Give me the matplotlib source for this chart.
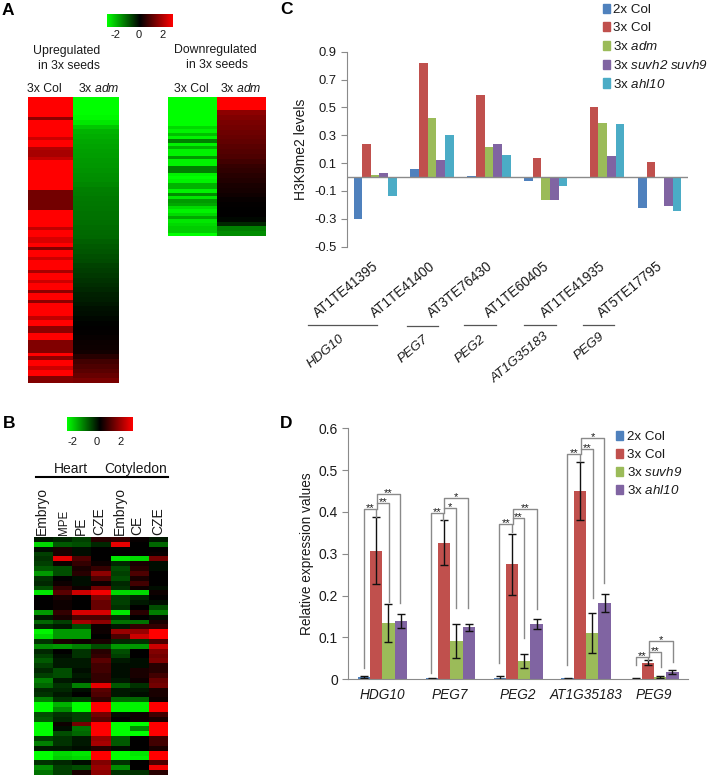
import numpy as np
import matplotlib
matplotlib.use("Agg")
import matplotlib.pyplot as plt
from matplotlib.colors import LinearSegmentedColormap
from matplotlib.patches import Patch
from matplotlib.transforms import ScaledTranslation

plt.rcParams['font.family'] = ['Liberation Sans', 'DejaVu Sans']
plt.rcParams['mathtext.fontset'] = 'custom'
plt.rcParams['mathtext.rm'] = 'Liberation Sans'
plt.rcParams['mathtext.it'] = 'Liberation Sans:italic'
# \mathcal keeps digits italic too, \mathit does not
plt.rcParams['mathtext.cal'] = 'Liberation Sans:italic'

W, H = 711, 777
TEXT = "#1a1a1a"
GRAY = "#8a8a8a"
BLUE = "#4F81BD"
RED = "#C0504D"
GREEN = "#9BBB59"
PURPLE = "#8064A2"
CYAN = "#4BACC6"

# panel A, log2 values
up_col = [2, 2, 2, 2, 2, 2, 1.1, 2, 2, 2, 2, 2, 1.6, 2, 2, 1.4, 1.3, 1.3, 1.5, 2,
          2, 2, 2, 2, 2, 2, 2, 2, 0.9, 0.9, 0.9, 0.9, 0.9, 0.9, 2, 2, 2, 2, 2, 1.5,
          2, 2, 1.7, 1.7, 2, 1.0, 2, 2, 1.6, 2, 2, 2, 1.3, 2, 2, 1.6, 2, 2, 1.1, 2,
          2, 1.1, 2, 2, 2, 2, 1.5, 2, 2, 1.1, 1.1, 2, 2, 1.0, 1.0, 1.0, 1.0, 2, 1.1,
          2, 2, 1.6, 2, 2, 1.0, 1.0]
up_adm = [-2, -2, -2, -2, -1.95, -1.8, -1.55, -1.4, -1.35, -1.3, -1.28, -1.25,
          -1.22, -1.2, -1.18, -1.15, -1.12, -1.1, -1.05, -1.0, -0.98, -0.95,
          -0.93, -0.92, -0.9, -0.88, -0.86, -0.84, -0.82, -0.8, -0.75, -0.7,
          -0.66, -0.62, -0.58, -0.52, -0.48, -0.44, -0.4, -0.35, -0.3, -0.26,
          -0.22, -0.18, -0.14, -0.1, -0.06, -0.02, 0.0, 0.02, 0.05, 0.08, 0.1,
          0.13, 0.3, 0.5, 0.6, 0.7, 0.8, 0.95]
down_col = [-2, -2, -2, -2, -2, -2, -2, -2, -2, -1.7, -1.9, -1.5, -1.9, -1.0, -1.9,
            -1.4, -1.9, -1.9, -1.2, -1.9, -1.9, -1.0, -1.0, -1.9, -2, -1.9, -1.4,
            -1.4, -1.9, -1.1, -1.8, -1.2, -1.3, -1.7, -1.9, -1.7, -1.3, -1.8, -1.7,
            -1.6, -1.6, -2]
down_adm = [2, 2, 2, 1.1, 1.0, 0.95, 0.9, 0.85, 0.8, 0.75, 0.7, 0.65, 0.6, 0.5,
            0.42, 0.36, 0.3, 0.25, 0.2, 0.16, 0.12, 0.06, 0.02, 0, 0, -0.05,
            -0.3, -1.0, -1.1]

# panel B
b_columns = ["Embryo", "MPE", "PE", "CZE", "Embryo", "CE", "CZE"]
b_rows = [
    [-.2, -.3, -.5, .3, .4, .05, -.2],
    [-1.7, -.7, -.6, -.3, 1.8, 0, -.8],
    [-.1, .2, -.1, 0, 0, 0, 0],
    [-.5, .2, -.1, 0, 0, 0, .05],
    [-.4, 1.8, .6, 0, -1.8, -1.7, .9],
    [-.5, .1, .4, .1, -.3, .2, -.1],
    [-.7, -.6, .2, .4, -.6, .3, -.1],
    [-1.2, -.6, .3, 1.1, -.5, .6, 0],
    [-.4, 0, -.1, .6, -.6, .2, 0],
    [-.3, .1, -.1, .1, -.3, .5, 0],
    [-.6, .4, .1, .9, -.4, .1, -.1],
    [-1.8, .7, 1.6, 1.9, -1.7, -1.7, .1],
    [0, .2, 0, 1.0, -.5, -.3, 0],
    [0, .1, 0, .8, -.5, -.2, -.1],
    [0, .1, 0, .8, -.4, 0, -.6],
    [-1.2, .4, 1.7, 1.7, -1.8, .3, -1.0],
    [-.2, .2, .6, .6, -.4, 0, -.1],
    [-.8, -.5, 1.3, 1.1, -.9, -.9, .2],
    [-.3, -.2, -.6, .1, -.2, .4, .4],
    [-1.9, -1.2, -1.2, .1, 1.2, 1.2, 2],
    [-1.7, -1.2, -1.2, 0, .6, 1.6, 2],
    [-.4, .2, .1, .2, -.3, -.4, .6],
    [-1.1, -1.2, -1, -.6, -1.2, -1.2, 1.6],
    [-.3, 0, -.4, .3, -.6, 0, 1.0],
    [-.5, -.1, -.4, .4, -.5, 0, .9],
    [-.7, -.2, -.2, .7, -.2, -.1, 1.0],
    [-.5, -.2, -.2, .5, -.1, -.1, .3],
    [-.3, -.6, -.1, .5, -.1, .2, .3],
    [-.5, -.6, -.2, .4, -.1, .2, .5],
    [-1, -.2, -.1, .4, -.2, .1, .8],
    [-.8, -.4, -1.0, 1.8, -.7, -.4, .9],
    [-.3, -.3, -.1, .7, -.2, -.2, .2],
    [-.4, -.2, 0, .6, -.2, -.1, .2],
    [-1.0, -.4, -.5, .4, -.8, -.8, .1],
    [-2, -1.4, -2, 2, -1.9, -1.9, 2],
    [-2, -1.1, -2, 2, -1.9, -1.9, 2],
    [-.6, -.4, -.5, .9, -.1, .1, .5],
    [-.7, -.3, -.5, .7, 0, .1, .2],
    [-2, .1, .9, 2, -2, -2, 2],
    [-2, -.1, -.9, 2, -2, -1.1, 2],
    [-2, -.6, -.8, 2, -2, -2, 2],
    [-.5, -.4, -.2, 1.2, -.7, 0, .5],
    [-1, -.4, -.2, 1.3, -.7, 0, .5],
    [-.2, -.2, -.1, .3, -.1, 0, .2],
    [-2, -1.7, -1.8, 2, -2, -1.8, 2],
    [-2, -1.6, -1.7, 2, -2, -1.9, 2],
    [-.4, -.3, -.1, 1.0, -.4, 0, .6],
    [-1.1, -.5, -.6, 1.2, -1.1, 0, 1.9],
    [-.9, -.5, .2, 1.1, -.4, -.4, .3],
]

# panel C
c_labels = ["AT1TE41395", "AT1TE41400", "AT3TE76430", "AT1TE60405", "AT1TE41935", "AT5TE17795"]
c_ticks = [-0.5, -0.3, -0.1, 0.1, 0.3, 0.5, 0.7, 0.9]
c_2x_col = [-0.30, 0.055, 0.01, -0.03, 0, -0.22]
c_3x_col = [0.24, 0.82, 0.59, 0.14, 0.505, 0.105]
c_3x_adm = [0.015, 0.425, 0.215, -0.165, 0.39, 0]
c_3x_suvh = [0.03, 0.125, 0.24, -0.165, 0.15, -0.205]
c_3x_ahl = [-0.135, 0.305, 0.16, -0.065, 0.38, -0.245]

# panel D
d_labels = ["HDG10", "PEG7", "PEG2", "AT1G35183", "PEG9"]
d_2x_col = [0.005, 0.002, 0.004, 0.002, 0.001]
d_3x_col = [0.307, 0.327, 0.275, 0.45, 0.04]
d_3x_suvh9 = [0.134, 0.092, 0.044, 0.11, 0.005]
d_3x_ahl10 = [0.139, 0.124, 0.132, 0.182, 0.017]
d_err_2x = [0.003, 0.0005, 0.003, 0.001, 0.001]
d_err_3x = [0.08, 0.053, 0.073, 0.07, 0.007]
d_err_suvh9 = [0.046, 0.041, 0.017, 0.048, 0.003]
d_err_ahl10 = [0.016, 0.009, 0.011, 0.022, 0.005]

cmap = LinearSegmentedColormap.from_list("gbr", ["#00ff00", "#000000", "#ff0000"])
fig = plt.figure(figsize=(W / 100, H / 100), dpi=100)


def px_axes(x0, y0, x1, y1):
    return fig.add_axes([x0 / W, 1 - y1 / H, (x1 - x0) / W, (y1 - y0) / H])


def heat(x0, y0, x1, y1, rows):
    ax = px_axes(x0, y0, x1, y1)
    ax.imshow(np.array(rows).reshape(len(rows), -1), cmap=cmap, vmin=-2, vmax=2,
              aspect='auto', interpolation='nearest')
    ax.axis('off')


def colour_bar(x0, y0, x1, y1, lo, hi, label_y):
    ax = px_axes(x0, y0, x1, y1)
    ax.imshow(np.linspace(-2, 2, 256)[None, :], cmap=cmap, vmin=-2, vmax=2,
              aspect='auto', extent=(lo, hi, 0, 1))
    ax.axis('off')
    for v in [-2, 0, 2]:
        xp = x0 + (v - lo) / (hi - lo) * (x1 - x0)
        over.text(xp, label_y, str(v), ha='center', va='center', fontsize=8, color=TEXT)


over = px_axes(0, 0, W, H)
over.set_xlim(0, W)
over.set_ylim(H, 0)
over.axis('off')
over.set_zorder(10)

# A
heat(28.3, 96.7, 73.3, 382.7, up_col)
heat(73.3, 96.7, 118.7, 382.7, up_adm)
heat(168.3, 96.7, 216.7, 236, down_col)
heat(216.7, 96.7, 265.3, 236, down_adm)
colour_bar(107, 14, 173, 27, -2.67, 2.83, 35)
for x, y, s in [(67, 51, "Upregulated"), (69, 66, "in 3x seeds"), (215, 50, "Downregulated"),
                (217, 65, "in 3x seeds"), (44, 89, "3x Col"), (99, 88, r"3x $\mathcal{adm}$"),
                (191, 89, "3x Col"), (241, 88, r"3x $\mathcal{adm}$")]:
    over.text(x, y, s, ha='center', va='center', fontsize=8.8, color=TEXT)

# B
heat(34.3, 537, 167.7, 775, b_rows)
colour_bar(67, 417, 133, 431, -2.0 - 5 / 12.2, 2.0 + 12 / 12.2, 442)
over.text(71, 469, "Heart", ha='center', va='center', fontsize=10, color=TEXT)
over.text(136, 469, "Cotyledon", ha='center', va='center', fontsize=10, color=TEXT)
over.plot([36, 100.7], [476.7, 476.7], color='black', lw=1.5)
over.plot([103, 168], [476.7, 476.7], color='black', lw=1.5)
for x, s in zip([42, 63.5, 81, 99, 120, 137.5, 158.5], b_columns):
    over.text(x, 535, s, rotation=90, ha='center', va='bottom', color=TEXT,
              fontsize=8.3 if s == "MPE" else 10)

# C
ax_c = px_axes(346.7, 51.7, 688, 246.7)
x = np.arange(len(c_labels))
bar_w = 0.152
c_series = [c_2x_col, c_3x_col, c_3x_adm, c_3x_suvh, c_3x_ahl]
c_colors = [BLUE, RED, GREEN, PURPLE, CYAN]
for i, (vals, col) in enumerate(zip(c_series, c_colors)):
    ax_c.bar(x + (i - 2) * bar_w, vals, bar_w, color=col)
ax_c.axhline(0, color=GRAY, lw=1)
ax_c.set_xlim(-0.5, 5.5)
ax_c.set_ylim(-0.5, 0.9)
ax_c.set_yticks(c_ticks)
ax_c.set_yticklabels([f"{t:.1f}" for t in c_ticks])
ax_c.set_xticks(x)
ax_c.set_xticklabels(c_labels, rotation=39.5, ha='right', rotation_mode='anchor')
ax_c.tick_params(axis='x', length=0, pad=9, labelsize=9.8, labelcolor=TEXT)
ax_c.tick_params(axis='y', length=4, color=GRAY, labelsize=9.4, labelcolor=TEXT, direction='out')
# the long labels sit a little left of the group centre
for label in ax_c.get_xticklabels():
    label.set_transform(label.get_transform() + ScaledTranslation(-0.03, 0, fig.dpi_scale_trans))
for side in ['top', 'right', 'bottom']:
    ax_c.spines[side].set_visible(False)
ax_c.spines['left'].set_color(GRAY)
ax_c.set_ylabel("H3K9me2 levels", fontsize=10, color=TEXT, labelpad=4)
c_handles = [Patch(color=c) for c in c_colors]
c_names = ["2x Col", "3x Col", r"3x $\mathcal{adm}$", r"3x $\mathcal{suvh2\ suvh9}$", r"3x $\mathcal{ahl10}$"]
fig.legend(c_handles, c_names, loc='upper left', bbox_to_anchor=(602.7 / W, 1 - 4 / H), frameon=False,
           fontsize=9.6, handlelength=0.55, handleheight=0.7, handletextpad=0.25,
           labelspacing=0.43, borderpad=0, borderaxespad=0, labelcolor=TEXT)
for x0, x1, y in [(307.7, 377.3, 325), (406.7, 438.3, 326), (464, 495.7, 324.5),
                  (524, 555.7, 324.5), (582.7, 614.3, 324.5)]:
    over.plot([x0, x1], [y, y], color='#555555', lw=0.9)
for xe, ye, s in [(343, 337, "HDG10"), (427, 338, "PEG7"), (484, 338, "PEG2"),
                  (547, 335, "AT1G35183"), (603, 335, "PEG9")]:
    over.text(xe, ye, s, rotation=40, rotation_mode='anchor', ha='right', va='center',
              style='italic', fontsize=9.6, color=TEXT)

# D
ax_d = px_axes(348.3, 428.3, 688, 679.3)
x = np.arange(len(d_labels))
bar_w = 0.181
d_series = [d_2x_col, d_3x_col, d_3x_suvh9, d_3x_ahl10]
d_errs = [d_err_2x, d_err_3x, d_err_suvh9, d_err_ahl10]
d_colors = [BLUE, RED, GREEN, PURPLE]
for i, (vals, errs, col) in enumerate(zip(d_series, d_errs, d_colors)):
    ax_d.bar(x + (i - 1.5) * bar_w, vals, bar_w, color=col, yerr=errs,
             error_kw=dict(ecolor='#111111', lw=1, capsize=3, capthick=1))
ax_d.set_xlim(-0.5, 4.5)
ax_d.set_ylim(0, 0.6)
ax_d.set_yticks([0, 0.1, 0.2, 0.3, 0.4, 0.5, 0.6])
ax_d.set_yticklabels(["0", "0.1", "0.2", "0.3", "0.4", "0.5", "0.6"])
ax_d.set_xticks(x)
ax_d.set_xticklabels(d_labels, style='italic')
ax_d.tick_params(axis='x', length=0, pad=6, labelsize=9.8, labelcolor=TEXT)
ax_d.tick_params(axis='y', length=4, color=GRAY, labelsize=10, labelcolor=TEXT)
for side in ['top', 'right']:
    ax_d.spines[side].set_visible(False)
ax_d.spines['left'].set_color(GRAY)
ax_d.spines['bottom'].set_color(GRAY)
ax_d.set_ylabel("Relative expression values", fontsize=9.8, color=TEXT, labelpad=3)
d_names = ["2x Col", "3x Col", r"3x $\mathcal{suvh9}$", r"3x $\mathcal{ahl10}$"]
fig.legend([Patch(color=c) for c in d_colors], d_names, loc='upper left',
           bbox_to_anchor=(616 / W, 1 - 431 / H), frameon=False, fontsize=9.6,
           handlelength=0.55, handleheight=0.7, handletextpad=0.25, labelspacing=0.39,
           borderpad=0, borderaxespad=0, labelcolor=TEXT)

# significance brackets: x0, x1, top, left end, right end (3x crop coordinates)
brackets = [
    (251, 288, 328, 805, 352, "**"), (290, 327, 310, 328, 605, "**"), (290, 360, 282, 310, 610, "**"),
    (453, 490, 340, 820, 360, "**"), (492, 527, 325, 340, 625, "*"), (492, 564, 293, 325, 625, "*"),
    (658, 696, 372, 790, 397, "**"), (698, 733, 353, 372, 715, "**"), (698, 770, 326, 353, 628, "**"),
    (862, 900, 162, 795, 183, "**"), (902, 938, 148, 162, 595, "**"), (902, 973, 115, 148, 550, "*"),
    (1067, 1104, 772, 795, 780, "**"), (1106, 1142, 757, 772, 800, "**"), (1106, 1178, 724, 757, 785, "*"),
]
for bx0, bx1, top, yl, yr, star in brackets:
    xs = [280 + bx0 / 3, 280 + bx0 / 3, 280 + bx1 / 3, 280 + bx1 / 3]
    ys = [400 + yl / 3, 400 + top / 3, 400 + top / 3, 400 + yr / 3]
    over.plot(xs, ys, color=GRAY, lw=1)
    over.text((xs[0] + xs[2]) / 2, ys[1] - 1, star, ha='center', va='center', fontsize=8, color=TEXT)

for xp, yp, s in [(2, 10.5, "A"), (3, 423, "B"), (280, 10, "C"), (280, 423, "D")]:
    over.text(xp, yp, s, ha='left', va='center', fontsize=12.5, fontweight='bold', color='black')

fig.savefig("out.png", dpi=100)
